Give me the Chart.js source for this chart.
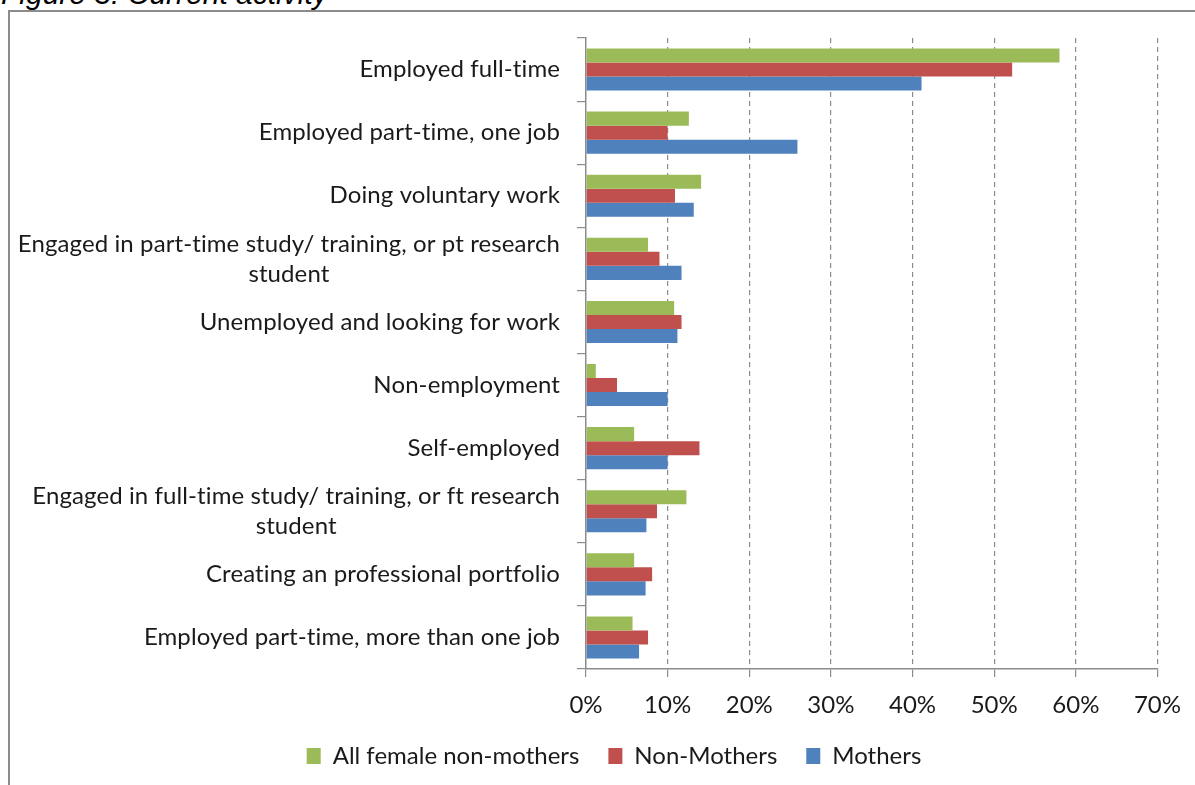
<!DOCTYPE html>
<html>
<head>
<meta charset="utf-8">
<script src="https://cdn.jsdelivr.net/npm/chart.js@4.4.1/dist/chart.umd.min.js"></script>
<style>
  html, body { margin: 0; padding: 0; background: #fff; }
  #wrap { position: relative; width: 1195px; height: 785px; overflow: hidden; }
  #frame { position: absolute; left: 8px; top: 10px; width: 1220px; height: 820px; border: 2px solid #8c8c8c; }
  #title { position: absolute; left: 1px; top: -21px; font: italic 30px/30px "Liberation Sans", Arial, sans-serif; color: #000; white-space: nowrap; }
  canvas { position: absolute; left: 0; top: 0; }
</style>
</head>
<body>
<div id="wrap">
  <div id="frame"></div>
  <div id="title">Figure 3: Current activity</div>
  <canvas id="chart" width="1195" height="785"></canvas>
</div>
<script>
var categories = [
    "Employed full-time",
    "Employed part-time, one job",
    "Doing voluntary work",
    ["Engaged in part-time study/ training, or pt research", "student"],
    "Unemployed and looking for work",
    "Non-employment",
    "Self-employed",
    ["Engaged in full-time study/ training, or ft research", "student"],
    "Creating an professional portfolio",
    "Employed part-time, more than one job"
];
var allFemaleNonMothers = [58, 12.6, 14.1, 7.6, 10.8, 1.2, 5.9, 12.3, 5.9, 5.7];
var nonMothers          = [52.2, 10, 10.9, 9, 11.7, 3.8, 13.9, 8.7, 8.1, 7.6];
var mothers             = [41.1, 25.9, 13.2, 11.7, 11.2, 10, 10, 7.4, 7.3, 6.5];
var xTicks = [0, 10, 20, 30, 40, 50, 60, 70];

var FONT = 'Lato, "Noto Sans", sans-serif';
var AXIS_GREY = '#8c8c8c';
var TEXT = '#1a1a1a';

Chart.defaults.font.family = FONT;
Chart.defaults.color = TEXT;

// Excel style category labels: block right aligned, lines centred in the block
var categoryLabels = {
    id: 'categoryLabels',
    afterDraw: function(chart) {
        var y = chart.scales.y;
        var ctx = chart.ctx;
        var right = chart.chartArea.left - 26;
        var lineH = 30;
        ctx.save();
        ctx.font = '24px ' + FONT;
        ctx.letterSpacing = '0.1px'; // keeps Lato from using its "ti" ligature
        ctx.fillStyle = TEXT;
        ctx.textAlign = 'center';
        ctx.textBaseline = 'middle';
        categories.forEach(function(label, i) {
            var lines = Array.isArray(label) ? label : [label];
            var w = Math.max.apply(null, lines.map(function(l) { return ctx.measureText(l).width; }));
            var cx = right - w / 2;
            var cy = y.getPixelForValue(i) - (lines.length - 1) * lineH / 2;
            lines.forEach(function(l, j) {
                ctx.fillText(l, cx, cy + j * lineH);
            });
        });
        ctx.restore();
    }
};

var ctx = document.getElementById('chart').getContext('2d');
var chart = new Chart(ctx, {
    type: 'bar',
    data: {
        labels: categories,
        datasets: [{
            label: 'All female non-mothers',
            data: allFemaleNonMothers,
            backgroundColor: '#9bbb59'
        }, {
            label: 'Non-Mothers',
            data: nonMothers,
            backgroundColor: '#c0504d'
        }, {
            label: 'Mothers',
            data: mothers,
            backgroundColor: '#4f81bd'
        }]
    },
    options: {
        indexAxis: 'y',
        responsive: false,
        animation: false,
        devicePixelRatio: 1,
        categoryPercentage: 0.667,
        barPercentage: 1,
        layout: {
            padding: { top: 38, right: 37, left: 70, bottom: 7 }
        },
        scales: {
            x: {
                min: 0,
                max: 70,
                afterBuildTicks: function(scale) {
                    scale.ticks = xTicks.map(function(v) { return { value: v }; });
                },
                afterFit: function(scale) { scale.height = 46; },
                ticks: {
                    padding: 14,
                    font: { size: 24 },
                    callback: function(v) { return v + '%'; }
                },
                grid: {
                    color: function(c) { return c.tick && c.tick.value === 0 ? 'rgba(0,0,0,0)' : AXIS_GREY; },
                    tickColor: AXIS_GREY,
                    lineWidth: 1.2,
                    tickLength: 8
                },
                border: { display: true, color: AXIS_GREY, width: 1.5, dash: [5, 4] }
            },
            y: {
                afterFit: function(scale) { scale.width = 516; },
                ticks: { display: false },
                grid: {
                    offset: true,
                    drawOnChartArea: false,
                    color: AXIS_GREY,
                    tickLength: 9,
                    lineWidth: 1.2
                },
                border: { display: true, color: AXIS_GREY, width: 1.5 }
            }
        },
        plugins: {
            legend: {
                position: 'bottom',
                labels: {
                    boxWidth: 14,
                    boxHeight: 16,
                    padding: 29,
                    color: TEXT,
                    font: { size: 24 }
                }
            },
            tooltip: { enabled: false }
        }
    },
    plugins: [categoryLabels]
});
</script>
</body>
</html>
